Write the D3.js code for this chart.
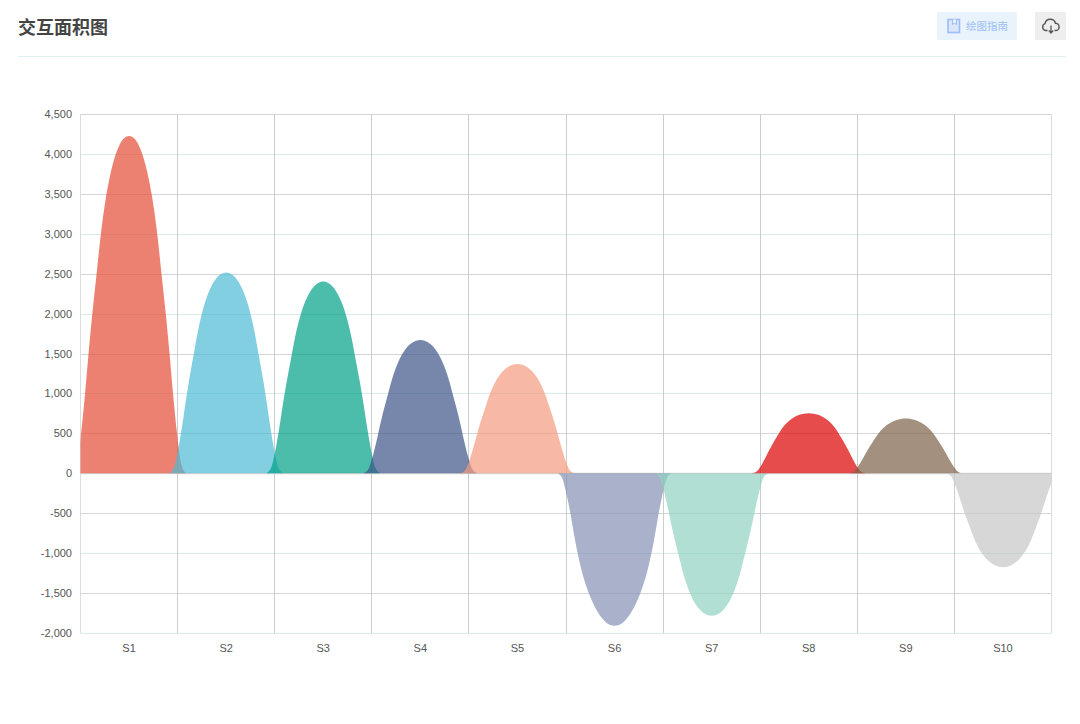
<!DOCTYPE html>
<html>
<head>
<meta charset="utf-8">
<script src="https://cdn.jsdelivr.net/npm/d3@7/dist/d3.min.js"></script>
<style>
html,body{margin:0;padding:0;background:#fff;overflow:hidden}
svg{display:block}
.axis text{font-family:"Liberation Sans",Arial,sans-serif;font-size:11px;fill:#555}
</style>
</head>
<body>
<svg id="c" width="1080" height="724"></svg>
<script>
const categories = ["S1","S2","S3","S4","S5","S6","S7","S8","S9","S10"];
const yTicks = [-2000,-1500,-1000,-500,0,500,1000,1500,2000,2500,3000,3500,4000,4500];
const colors = ["#E64B35","#4DBBD5","#00A087","#3C5488","#F39B7F","#8491B4","#91D1C2","#DC0000","#7E6148","#C6C6C6"];

// Distance from each category centre (in category widths) at which values were read
const offsets = [0.587,0.536,0.494,0.453,0.417,0.378,0.335,0.288,0.232,0.196,0.154,0.103,0.051,0];

// Values read from the rising limb of each hump, outer edge to peak
const s1  = [0,127,500,1000,1500,2000,2490,3020,3500,3725,3930,4100,4195,4225];
const s2  = [0,75,297,596,893,1190,1484,1798,2082,2218,2339,2440,2496,2515];
const s3  = [0,72,283,569,853,1136,1417,1717,1989,2119,2234,2330,2384,2402];
const s4  = [0,50,197,396,593,790,985,1194,1383,1473,1553,1620,1657,1670];
const s5  = [0,41,162,325,486,648,808,980,1134,1208,1274,1329,1360,1370];
const s6  = [0,-70,-265,-510,-765,-1010,-1235,-1425,-1600,-1690,-1775,-1850,-1896,-1908];
const s7  = [0,-53,-210,-423,-633,-843,-1052,-1275,-1476,-1573,-1658,-1730,-1770,-1783];
const s8  = [0,23,89,178,267,356,444,538,623,663,699,729,746,752];
const s9  = [0,21,81,162,243,324,404,490,567,604,637,664,680,685];
const s10 = [0,-35,-139,-278,-417,-556,-693,-840,-973,-1036,-1093,-1140,-1166,-1175];
const seriesValues = [s1,s2,s3,s4,s5,s6,s7,s8,s9,s10];

const svg = d3.select("#c");
const x = d3.scaleBand().domain(categories).range([80.5,1051.5]);
const y = d3.scaleLinear().domain([-2000,4500]).range([633,114]);
const bw = x.bandwidth();
const tickFmt = d3.formatLocale({decimal:".",thousands:",",grouping:[3],currency:["",""],minus:"-"}).format(",");

// header
svg.append("text").attr("x",18).attr("y",34)
  .style("font-family",'"Noto Sans CJK SC",sans-serif').style("font-size","18px").style("font-weight",700)
  .attr("fill","#444").text("交互面积图");
svg.append("line").attr("x1",18).attr("x2",1066).attr("y1",56.5).attr("y2",56.5).attr("stroke","#dff0f0");
svg.append("rect").attr("x",937).attr("y",12).attr("width",80).attr("height",28).attr("rx",2).attr("fill","#e8f3fc");
svg.append("rect").attr("x",948).attr("y",19.5).attr("width",11.5).attr("height",13).attr("fill","#dbe6fd").attr("stroke","#9dbdfb").attr("stroke-width",1.6);
svg.append("path").attr("d","M952.5 19.5V24.5L954.5 23L956.5 24.5V19.5").attr("fill","#e8f3fc").attr("stroke","#9dbdfb");
svg.append("text").attr("x",966).attr("y",30)
  .style("font-family",'"Noto Sans CJK SC",sans-serif').style("font-size","10.5px")
  .attr("fill","#9dbff6").text("绘图指南");
svg.append("rect").attr("x",1035).attr("y",12).attr("width",31).attr("height",28).attr("fill","#eeeeee");
svg.append("path").attr("d","M1054.5 30.5H1055.5A3.6 3.6 0 0 0 1055.5 23.3A5.4 5.4 0 0 0 1045 23.6A3.6 3.6 0 0 0 1045.5 30.5H1047.5")
  .attr("fill","none").attr("stroke","#555").attr("stroke-width",1.4);
svg.append("path").attr("d","M1051 25.5V32.5M1048.8 30.5L1051 33L1053.2 30.5").attr("fill","none").attr("stroke","#555").attr("stroke-width",1.3);

// horizontal grid
svg.append("g").selectAll("line").data(yTicks).join("line")
  .attr("x1",80.5).attr("x2",1051.5)
  .attr("y1",d=>Math.round(y(d))+0.5).attr("y2",d=>Math.round(y(d))+0.5)
  .attr("stroke",(d,i)=>d===0?"#d9d6d6":(i%2===0?"#d8ecea":"#d3d6d8"))
  .attr("stroke-width",d=>d===0?1.6:1);

// vertical grid
const edges = categories.map(c=>x(c)).concat([x.range()[1]]);
svg.append("g").selectAll("line").data(edges).join("line")
  .attr("x1",d=>Math.floor(d)+0.5).attr("x2",d=>Math.floor(d)+0.5)
  .attr("y1",114).attr("y2",633)
  .attr("stroke",(d,i)=>(i===0||i===edges.length-1)?"#dcdcdc":"#c9ced0");

// areas
svg.append("clipPath").attr("id","plot").append("rect")
  .attr("x",80.5).attr("y",114).attr("width",971).attr("height",519);
const area = d3.area().x(d=>d.px).y0(y(0)).y1(d=>y(d.v)).curve(d3.curveMonotoneX);
const layers = categories.map((c,i)=>{
  const cx = x(c)+bw/2;
  const left = offsets.map((o,k)=>({px:cx-o*bw,v:seriesValues[i][k]}));
  const right = offsets.slice(0,-1).reverse().map((o,k,a)=>({px:cx+o*bw,v:seriesValues[i][a.length-1-k]}));
  return {pts:left.concat(right),color:colors[i]};
});
svg.append("g").attr("clip-path","url(#plot)").selectAll("path").data(layers).join("path")
  .attr("d",d=>area(d.pts)).attr("fill",d=>d.color).attr("fill-opacity",0.7);

// axes
const yAxis = svg.append("g").attr("class","axis").attr("transform","translate(72,0)")
  .call(d3.axisLeft(y).tickValues(yTicks).tickSize(0).tickPadding(0).tickFormat(tickFmt));
yAxis.select(".domain").remove();
const xAxis = svg.append("g").attr("class","axis").attr("transform","translate(0,633)")
  .call(d3.axisBottom(x).tickSize(0).tickPadding(11));
xAxis.select(".domain").remove();
</script>
</body>
</html>
